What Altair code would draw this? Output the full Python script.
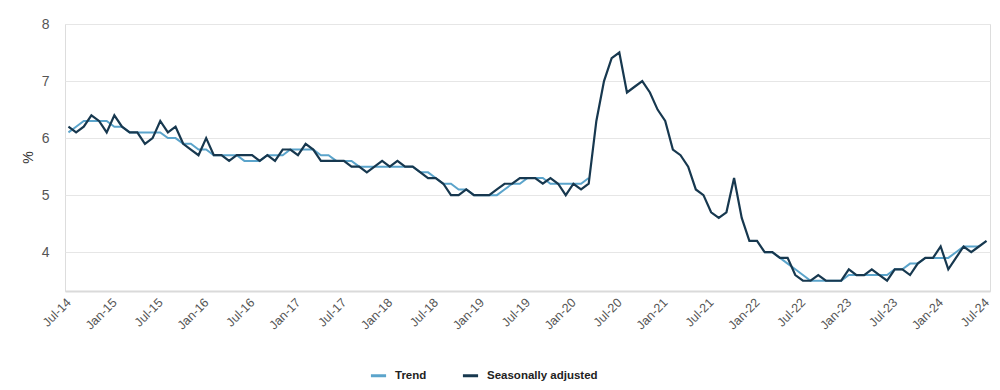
import altair as alt
import pandas as pd

# Month categories Jul-14 .. Jul-24
mon_names = ["Jul", "Aug", "Sep", "Oct", "Nov", "Dec", "Jan", "Feb", "Mar", "Apr", "May", "Jun"]
months = []
for k in range(121):
    yr = 14 + (k + 6) // 12
    months.append(f"{mon_names[k % 12]}-{yr:02d}")

tick_labels = ["Jul-14", "Jan-15", "Jul-15", "Jan-16", "Jul-16", "Jan-17", "Jul-17",
               "Jan-18", "Jul-18", "Jan-19", "Jul-19", "Jan-20", "Jul-20", "Jan-21",
               "Jul-21", "Jan-22", "Jul-22", "Jan-23", "Jul-23", "Jan-24", "Jul-24"]

seasonally_adjusted = [
    6.2, 6.1, 6.2, 6.4, 6.3, 6.1, 6.4, 6.2, 6.1, 6.1, 5.9, 6.0,
    6.3, 6.1, 6.2, 5.9, 5.8, 5.7, 6.0, 5.7, 5.7, 5.6, 5.7, 5.7,
    5.7, 5.6, 5.7, 5.6, 5.8, 5.8, 5.7, 5.9, 5.8, 5.6, 5.6, 5.6,
    5.6, 5.5, 5.5, 5.4, 5.5, 5.6, 5.5, 5.6, 5.5, 5.5, 5.4, 5.3,
    5.3, 5.2, 5.0, 5.0, 5.1, 5.0, 5.0, 5.0, 5.1, 5.2, 5.2, 5.3,
    5.3, 5.3, 5.2, 5.3, 5.2, 5.0, 5.2, 5.1, 5.2, 6.3, 7.0, 7.4,
    7.5, 6.8, 6.9, 7.0, 6.8, 6.5, 6.3, 5.8, 5.7, 5.5, 5.1, 5.0,
    4.7, 4.6, 4.7, 5.3, 4.6, 4.2, 4.2, 4.0, 4.0, 3.9, 3.9, 3.6,
    3.5, 3.5, 3.6, 3.5, 3.5, 3.5, 3.7, 3.6, 3.6, 3.7, 3.6, 3.5,
    3.7, 3.7, 3.6, 3.8, 3.9, 3.9, 4.1, 3.7, 3.9, 4.1, 4.0, 4.1,
    4.2,
]

# Trend (None where the series was suspended)
trend = [
    6.1, 6.2, 6.3, 6.3, 6.3, 6.3, 6.2, 6.2, 6.1, 6.1, 6.1, 6.1,
    6.1, 6.0, 6.0, 5.9, 5.9, 5.8, 5.8, 5.7, 5.7, 5.7, 5.7, 5.6,
    5.6, 5.6, 5.7, 5.7, 5.7, 5.8, 5.8, 5.8, 5.8, 5.7, 5.7, 5.6,
    5.6, 5.6, 5.5, 5.5, 5.5, 5.5, 5.5, 5.5, 5.5, 5.5, 5.4, 5.4,
    5.3, 5.2, 5.2, 5.1, 5.1, 5.0, 5.0, 5.0, 5.0, 5.1, 5.2, 5.2,
    5.3, 5.3, 5.3, 5.2, 5.2, 5.2, 5.2, 5.2, 5.3, None, None, None,
    None, None, None, None, None, None, None, None, None, None, None, None,
    None, None, None, None, None, None, None, 4.0, 4.0, 3.9, 3.8, 3.7,
    3.6, 3.5, 3.5, 3.5, 3.5, 3.5, 3.6, 3.6, 3.6, 3.6, 3.6, 3.6,
    3.7, 3.7, 3.8, 3.8, 3.9, 3.9, 3.9, 3.9, 4.0, 4.1, 4.1, 4.1,
    None,
]

series_names = ["Trend", "Seasonally adjusted"]
series_colors = ["#5ba4cb", "#17384f"]

rows = []
for k, m in enumerate(months):
    if trend[k] is not None:
        seg = "T1" if k < 80 else "T2"
        rows.append({"month": m, "series": "Trend", "seg": seg, "value": trend[k]})
    rows.append({"month": m, "series": "Seasonally adjusted", "seg": "S",
                 "value": seasonally_adjusted[k]})
df = pd.DataFrame(rows)

FONT = "Liberation Sans"

x_enc = alt.X(
    "month:O",
    sort=months,
    scale=alt.Scale(type="point", padding=0.45),
    axis=alt.Axis(
        values=tick_labels, title=None, labelAngle=-45, labelFontSize=12.5,
        labelColor="#555555", labelFont=FONT, labelPadding=9, ticks=False,
        labelAlign="right", labelBaseline="middle",
        grid=False, domain=True, domainColor="#dadada", domainWidth=2,
    ),
)
y_enc = alt.Y(
    "value:Q",
    scale=alt.Scale(domain=[3.32, 8], nice=False, zero=False),
    axis=alt.Axis(
        values=[4, 5, 6, 7, 8], title="%", titleFontSize=14, titleFont=FONT,
        titleColor="#333333", titleFontWeight="normal", titleX=-30, titleY=133,
        labelFontSize=14, labelColor="#555555", labelFont=FONT, labelPadding=16,
        ticks=False, domain=False, grid=True, gridColor="#e6e6e6", gridWidth=1.2,
    ),
)
color_enc = alt.Color(
    "series:N",
    scale=alt.Scale(domain=series_names, range=series_colors),
    legend=alt.Legend(
        title=None, orient="none", direction="horizontal", legendX=304, legendY=342,
        symbolType="stroke", symbolStrokeWidth=3, symbolSize=230, labelFontSize=11.5,
        labelFont=FONT, labelFontWeight="bold", labelColor="#222222", labelOffset=7,
        columnPadding=29,
    ),
)

trend_layer = alt.Chart(df).transform_filter(alt.datum.series == "Trend").mark_line(
    strokeWidth=2
).encode(x=x_enc, y=y_enc, color=color_enc, detail="seg:N")

sa_layer = alt.Chart(df).transform_filter(alt.datum.series == "Seasonally adjusted").mark_line(
    strokeWidth=2.2
).encode(x=x_enc, y=y_enc, color=color_enc, detail="seg:N")

chart = alt.layer(trend_layer, sa_layer).properties(
    width=925, height=267,
    autosize=alt.AutoSizeParams(type="none"),
    padding={"left": 57, "top": 16, "right": 2, "bottom": 91},
).configure_view(stroke=None).configure(background="white")

chart.save("out.html", embed_options={"renderer": "svg", "actions": False})
